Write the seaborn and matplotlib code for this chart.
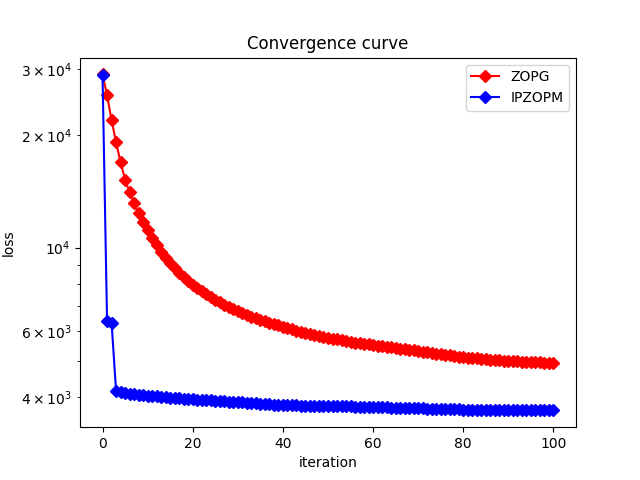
import numpy as np
import pandas as pd
import seaborn as sns
import matplotlib
matplotlib.use("Agg")
import matplotlib.pyplot as plt

# loss per iteration
iters = list(range(101))

zopg = [29000, 25500, 21900, 19100, 16900, 15200, 14050, 13150, 12350, 11700,
        11150, 10600, 10150, 9750, 9400, 9080, 8800, 8560, 8340, 8140,
        7960, 7800, 7650, 7510, 7380, 7260, 7150, 7050, 6950, 6860,
        6780, 6700, 6620, 6550, 6480, 6420, 6360, 6300, 6250, 6200,
        6150, 6100, 6060, 6010, 5970, 5930, 5890, 5850, 5820, 5780,
        5750, 5720, 5690, 5660, 5630, 5610, 5580, 5560, 5540, 5520,
        5500, 5480, 5460, 5440, 5420, 5400, 5380, 5360, 5340, 5320,
        5300, 5280, 5260, 5240, 5220, 5200, 5180, 5160, 5140, 5120,
        5100, 5088, 5076, 5064, 5052, 5040, 5030, 5018, 5006, 4995,
        4985, 4978, 4972, 4966, 4960, 4954, 4948, 4942, 4936, 4930,
        4925]

ipzopm = [28900, 6380, 6310, 4150, 4120, 4100, 4080, 4065, 4050, 4040,
          4030, 4020, 4010, 4000, 3990, 3980, 3970, 3960, 3955, 3948,
          3940, 3932, 3925, 3918, 3911, 3905, 3898, 3892, 3886, 3880,
          3874, 3866, 3858, 3850, 3843, 3836, 3828, 3820, 3813, 3806,
          3800, 3798, 3796, 3794, 3792, 3790, 3788, 3786, 3784, 3782,
          3780, 3778, 3776, 3774, 3772, 3770, 3768, 3765, 3762, 3760,
          3757, 3754, 3751, 3748, 3745, 3742, 3739, 3736, 3733, 3730,
          3727, 3724, 3721, 3718, 3715, 3712, 3709, 3706, 3703, 3701,
          3700, 3699, 3698, 3697, 3696, 3695, 3694, 3693, 3692, 3691,
          3690, 3689, 3688, 3687, 3686, 3685, 3684, 3683, 3682, 3681,
          3680]

df = pd.DataFrame({"iteration": iters, "ZOPG": zopg, "IPZOPM": ipzopm})

fig, ax = plt.subplots(figsize=(6.4, 4.8), dpi=100)

sns.lineplot(data=df, x="iteration", y="ZOPG", color="red", marker="D",
             markeredgecolor="red", markeredgewidth=1, label="ZOPG", ax=ax)
sns.lineplot(data=df, x="iteration", y="IPZOPM", color="blue", marker="D",
             markeredgecolor="blue", markeredgewidth=1, label="IPZOPM", ax=ax)

ax.set_yscale("log")
ax.set_title("Convergence curve")
ax.set_xlabel("iteration")
ax.set_ylabel("loss")
ax.legend(loc="upper right")

fig.savefig("out.png", dpi=100)
